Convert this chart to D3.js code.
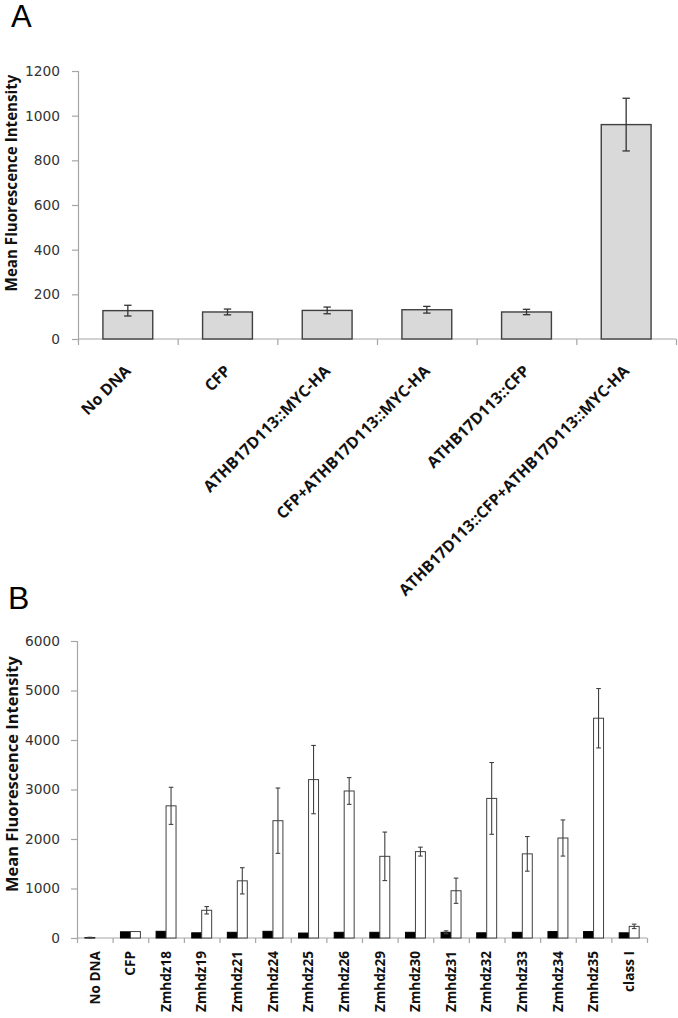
<!DOCTYPE html>
<html>
<head>
<meta charset="utf-8">
<script src="https://cdn.jsdelivr.net/npm/d3@7"></script>
<style>
  html, body { margin: 0; padding: 0; background: #fff; }
  svg { display: block; }
</style>
</head>
<body>
<svg id="chart" width="678" height="1018"></svg>
<script>
// ---------- Data: panel A ----------
const categoriesA = ["No DNA", "CFP", "ATHB17D113::MYC-HA", "CFP+ATHB17D113::MYC-HA", "ATHB17D113::CFP", "ATHB17D113::CFP+ATHB17D113::MYC-HA"];
const valuesA = [127, 121, 128, 131, 121, 960];
const errorsA = [24, 13, 15, 15, 12, 118];
const ticksA = [0, 200, 400, 600, 800, 1000, 1200];

// ---------- Data: panel B ----------
const categoriesB = ["No DNA", "CFP", "Zmhdz18", "Zmhdz19", "Zmhdz21", "Zmhdz24", "Zmhdz25", "Zmhdz26", "Zmhdz29", "Zmhdz30", "Zmhdz31", "Zmhdz32", "Zmhdz33", "Zmhdz34", "Zmhdz35", "class I"];
const seriesB = ["black", "white"];
const blackValuesB = [5, 125, 135, 105, 115, 135, 100, 115, 115, 115, 115, 105, 115, 130, 130, 105];
const blackErrorsB = [10, 0, 0, 0, 0, 0, 0, 0, 0, 0, 30, 0, 0, 0, 0, 0];
const whiteValuesB = [0, 130, 2670, 560, 1155, 2370, 3200, 2970, 1650, 1745, 955, 2820, 1700, 2020, 4440, 235];
const whiteErrorsB = [0, 0, 375, 75, 265, 660, 690, 270, 490, 90, 255, 725, 350, 365, 600, 45];
const ticksB = [0, 1000, 2000, 3000, 4000, 5000, 6000];

const yTitle = "Mean Fluorescence Intensity";

const svg = d3.select("#chart");
const axisColor = "#a6a6a6";
const darkStroke = "#404040";
const tickFont = "DejaVu Sans, sans-serif";
const boldFont = "Open Sans, sans-serif";

// size text so that a reference string has a given rendered length
function fitSize(family, weight, str, target) {
  const t = svg.append("text").attr("font-family", family).attr("font-weight", weight)
    .attr("font-size", 100).text(str);
  const len = t.node().getComputedTextLength();
  t.remove();
  return 100 * target / len;
}
const tickSize = fitSize(tickFont, "normal", "1200", 35);
const titleSizeA = fitSize(boldFont, "bold", yTitle, 217);
const titleSizeB = fitSize(boldFont, "bold", yTitle, 236);
const labelSizeA = fitSize(boldFont, "bold", categoriesA[5], 318);
const labelSizeB = fitSize(boldFont, "bold", "Zmhdz18", 61);

// ================= PANEL A =================
{
  const left = 78, right = 676, top = 71, bottom = 339;
  const x = d3.scaleBand().domain(categoriesA).range([left, right]).paddingInner(0.5).paddingOuter(0.25);
  const y = d3.scaleLinear().domain([0, 1200]).range([bottom, top]);
  const g = svg.append("g");

  g.append("text").attr("x", 11).attr("y", 27).text("A")
    .attr("font-family", "Liberation Sans, Arial, sans-serif").attr("font-size", 31).attr("fill", "#000");

  const yAxis = g.append("g").attr("transform", `translate(${left},0)`)
    .call(d3.axisLeft(y).tickValues(ticksA).tickSize(6).tickPadding(12).tickFormat(d3.format("d")));
  yAxis.select(".domain").attr("stroke", axisColor).attr("stroke-width", 1.2);
  yAxis.selectAll(".tick line").attr("stroke", axisColor).attr("stroke-width", 1.2);
  yAxis.selectAll(".tick text").attr("font-family", tickFont).attr("font-size", tickSize).attr("fill", "#333");

  const xb = d3.scaleLinear().domain([0, categoriesA.length]).range([left, right]);
  const xAxis = g.append("g").attr("transform", `translate(0,${bottom})`)
    .call(d3.axisBottom(xb).tickValues(d3.range(0, categoriesA.length + 1)).tickSize(6).tickFormat(""));
  xAxis.select(".domain").attr("stroke", axisColor).attr("stroke-width", 1.2).attr("d", `M${left},0H${right}`);
  xAxis.selectAll(".tick line").attr("stroke", axisColor).attr("stroke-width", 1.2);

  g.selectAll(".barA").data(categoriesA).join("rect")
    .attr("x", d => x(d)).attr("width", x.bandwidth())
    .attr("y", (d, i) => y(valuesA[i])).attr("height", (d, i) => y(0) - y(valuesA[i]))
    .attr("fill", "#d9d9d9").attr("stroke", darkStroke).attr("stroke-width", 1.4);

  const eg = g.selectAll(".errA").data(categoriesA).join("g");
  eg.append("line")
    .attr("x1", d => x(d) + x.bandwidth() / 2).attr("x2", d => x(d) + x.bandwidth() / 2)
    .attr("y1", (d, i) => y(valuesA[i] + errorsA[i])).attr("y2", (d, i) => y(valuesA[i] - errorsA[i]))
    .attr("stroke", "#333").attr("stroke-width", 1.3);
  [1, -1].forEach(s => {
    eg.append("line")
      .attr("x1", d => x(d) + x.bandwidth() / 2 - 3.7).attr("x2", d => x(d) + x.bandwidth() / 2 + 3.7)
      .attr("y1", (d, i) => y(valuesA[i] + s * errorsA[i])).attr("y2", (d, i) => y(valuesA[i] + s * errorsA[i]))
      .attr("stroke", "#333").attr("stroke-width", 1.3);
  });

  g.selectAll(".labA").data(categoriesA).join("text")
    .attr("transform", d => `translate(${x(d) + x.bandwidth() / 2 + 4},${bottom + 33}) rotate(-45)`)
    .attr("text-anchor", "end")
    .attr("font-family", boldFont).attr("font-weight", "bold").attr("font-size", labelSizeA).attr("fill", "#111")
    .text(d => d);

  g.append("text").attr("transform", `translate(12,183) rotate(-90)`)
    .attr("text-anchor", "middle").attr("dy", "0.35em")
    .attr("font-family", boldFont).attr("font-weight", "bold").attr("font-size", titleSizeA).attr("fill", "#111")
    .text(yTitle);
}

// ================= PANEL B =================
{
  const left = 77, right = 647, top = 641, bottom = 938;
  const x = d3.scaleBand().domain(categoriesB).range([left, right]).padding(0);
  const x1 = d3.scaleBand().domain(seriesB).range([x.bandwidth() * 0.22, x.bandwidth() * 0.78]).padding(0);
  const y = d3.scaleLinear().domain([0, 6000]).range([bottom, top]);
  const g = svg.append("g");

  g.append("text").attr("x", 8).attr("y", 609).text("B")
    .attr("font-family", "Liberation Sans, Arial, sans-serif").attr("font-size", 32).attr("fill", "#000");

  const yAxis = g.append("g").attr("transform", `translate(${left},0)`)
    .call(d3.axisLeft(y).tickValues(ticksB).tickSize(6).tickPadding(11).tickFormat(d3.format("d")));
  yAxis.select(".domain").attr("stroke", axisColor).attr("stroke-width", 1.2);
  yAxis.selectAll(".tick line").attr("stroke", axisColor).attr("stroke-width", 1.2);
  yAxis.selectAll(".tick text").attr("font-family", tickFont).attr("font-size", tickSize).attr("fill", "#333");

  const xb = d3.scaleLinear().domain([0, categoriesB.length]).range([left, right]);
  const xAxis = g.append("g").attr("transform", `translate(0,${bottom})`)
    .call(d3.axisBottom(xb).tickValues(d3.range(0, categoriesB.length + 1)).tickSize(5).tickFormat(""));
  xAxis.select(".domain").attr("stroke", axisColor).attr("stroke-width", 1.2).attr("d", `M${left},0H${right}`);
  xAxis.selectAll(".tick line").attr("stroke", axisColor).attr("stroke-width", 1.2);

  const rows = [];
  categoriesB.forEach((c, i) => {
    rows.push({ c, s: "black", v: blackValuesB[i], e: blackErrorsB[i] });
    rows.push({ c, s: "white", v: whiteValuesB[i], e: whiteErrorsB[i] });
  });

  g.selectAll(".barB").data(rows.filter(r => r.v > 0)).join("rect")
    .attr("x", d => x(d.c) + x1(d.s)).attr("width", x1.bandwidth())
    .attr("y", d => y(d.v)).attr("height", d => y(0) - y(d.v))
    .attr("fill", d => d.s === "black" ? "#000" : "#fff")
    .attr("stroke", d => d.s === "black" ? "#000" : darkStroke)
    .attr("stroke-width", 1);

  const errRows = rows.filter(r => r.e > 0);
  const eg = g.selectAll(".errB").data(errRows).join("g");
  const cx = d => x(d.c) + x1(d.s) + x1.bandwidth() / 2;
  eg.append("line").attr("x1", cx).attr("x2", cx)
    .attr("y1", d => y(d.v + d.e)).attr("y2", d => y(Math.max(0, d.v - d.e)))
    .attr("stroke", "#404040").attr("stroke-width", 1.1);
  [1, -1].forEach(s => {
    eg.append("line").attr("x1", d => cx(d) - 2.3).attr("x2", d => cx(d) + 2.3)
      .attr("y1", d => y(Math.max(0, d.v + s * d.e))).attr("y2", d => y(Math.max(0, d.v + s * d.e)))
      .attr("stroke", "#404040").attr("stroke-width", 1.1);
  });

  g.selectAll(".labB").data(categoriesB).join("text")
    .attr("transform", d => `translate(${x(d) + x.bandwidth() / 2},${bottom + 13}) rotate(-90)`)
    .attr("text-anchor", "end").attr("dy", "0.35em")
    .attr("font-family", boldFont).attr("font-weight", "bold").attr("font-size", labelSizeB).attr("fill", "#111")
    .text(d => d);

  g.append("text").attr("transform", `translate(12,774) rotate(-90)`)
    .attr("text-anchor", "middle").attr("dy", "0.35em")
    .attr("font-family", boldFont).attr("font-weight", "bold").attr("font-size", titleSizeB).attr("fill", "#111")
    .text(yTitle);
}
</script>
</body>
</html>
